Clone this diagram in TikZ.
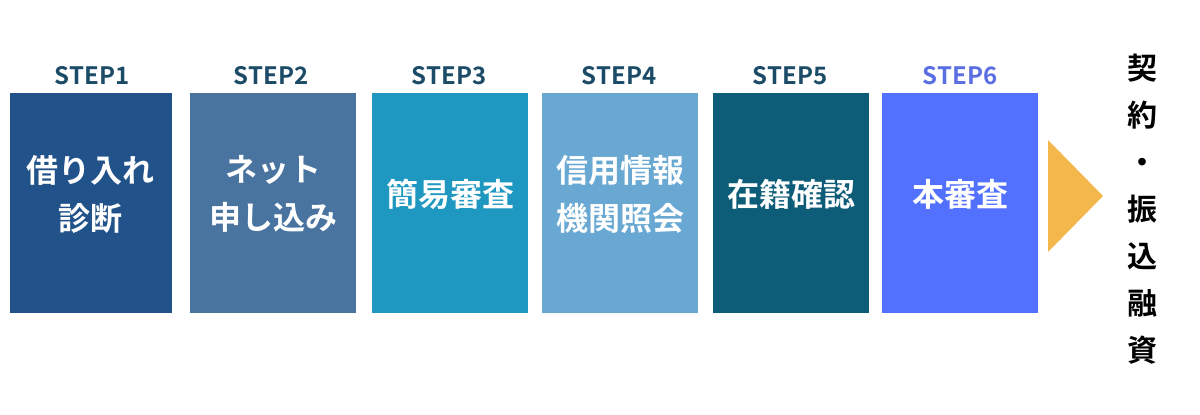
\documentclass[tikz,border=0pt]{standalone}
\usepackage{fontspec}
\setmainfont{Noto Sans CJK JP}[BoldFont={Noto Sans CJK JP Bold}]
\usepackage{tikz}

\definecolor{stepblue}{HTML}{1B4B66}
\definecolor{stepsix}{HTML}{5A6FE2}
\definecolor{boxA}{HTML}{21528A}
\definecolor{boxB}{HTML}{4A74A0}
\definecolor{boxC}{HTML}{1E98C0}
\definecolor{boxD}{HTML}{68A8D2}
\definecolor{boxE}{HTML}{0E5D78}
\definecolor{boxF}{HTML}{5271FF}
\definecolor{arrowgold}{HTML}{F4B74C}

\begin{document}
\begin{tikzpicture}[x=1pt,y=-1pt,
      stepbox/.style = { rectangle, minimum width = 156pt, minimum height = 220pt, inner sep = 0pt},
      boxtext/.style = { text = white, align = center, inner sep = 0pt,
                         font = \bfseries\fontsize{32}{48}\selectfont},
      steplabel/.style = { anchor = base, text = stepblue, inner sep = 0pt,
                         font = \bfseries\fontsize{24}{24}\selectfont}]

  \useasboundingbox (0,0) rectangle (1200,415);

  % Step 1
  \node[stepbox,fill=boxA,minimum width=162pt] (b1) at (91,203) {};
  \node[boxtext] (t1) at ([yshift=9pt]b1.center) {借り入れ\\診断};
  \node[steplabel] (s1) at (92,84) {STEP1};

  % Step 2
  \node[stepbox,fill=boxB,minimum width=166pt] (b2) at (273,203) {};
  \node[boxtext] (t2) at ([yshift=9pt]b2.center) {ネット\\申し込み};
  \node[steplabel] (s2) at (271,84) {STEP2};

  % Step 3
  \node[stepbox,fill=boxC] (b3) at (450,203) {};
  \node[boxtext] (t3) at ([yshift=9pt]b3.center) {簡易審査};
  \node[steplabel] (s3) at (449,84) {STEP3};

  % Step 4
  \node[stepbox,fill=boxD] (b4) at (620,203) {};
  \node[boxtext] (t4) at ([yshift=9pt]b4.center) {信用情報\\機関照会};
  \node[steplabel] (s4) at (619,84) {STEP4};

  % Step 5
  \node[stepbox,fill=boxE] (b5) at (791,203) {};
  \node[boxtext] (t5) at ([yshift=9pt]b5.center) {在籍確認};
  \node[steplabel] (s5) at (790,84) {STEP5};

  % Step 6
  \node[stepbox,fill=boxF] (b6) at (960,203) {};
  \node[boxtext] (t6) at ([yshift=9pt]b6.center) {本審査};
  \node[steplabel,text=stepsix] (s6) at (960,84) {STEP6};

  % Arrow
  \fill[arrowgold] (1048,140) -- (1103,196) -- (1048,252) -- cycle;

  % Result
  \node[align=center,inner sep=0pt,font=\bfseries\fontsize{30}{47}\selectfont] (res) at (1142,209)
       {契\\約\\・\\振\\込\\融\\資};

\end{tikzpicture}
\end{document}
